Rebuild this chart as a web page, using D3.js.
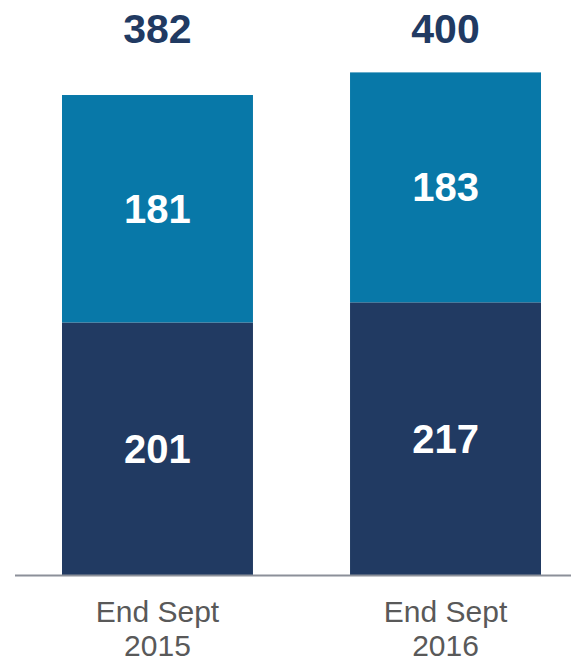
<!DOCTYPE html>
<html>
<head>
<meta charset="utf-8">
<script src="https://cdn.jsdelivr.net/npm/d3@7"></script>
<style>
  body { margin: 0; background: #fff; }
  text { font-family: "Liberation Sans", Arial, sans-serif; }
</style>
</head>
<body>
<div id="chart"></div>
<script>
// data
const categories = ["End Sept 2015", "End Sept 2016"];
const lowerValues = [201, 217];
const upperValues = [181, 183];
const totals = [382, 400];

const width = 571, height = 663;
const baseline = 575;

const svg = d3.select("#chart").append("svg")
  .attr("width", width)
  .attr("height", height);

const x = d3.scaleBand()
  .domain(categories)
  .range([62, 541])
  .paddingInner(0.337)
  .paddingOuter(0);

const y = d3.scaleLinear()
  .domain([0, 400])
  .range([baseline, 72.4]);

const rows = categories.map((c, i) => ({
  cat: c, lower: lowerValues[i], upper: upperValues[i], total: totals[i]
}));

// lower segment
svg.selectAll(".lower")
  .data(rows)
  .join("rect")
    .attr("class", "lower")
    .attr("x", d => x(d.cat))
    .attr("width", x.bandwidth())
    .attr("y", d => y(d.lower))
    .attr("height", d => baseline - y(d.lower))
    .attr("fill", "#213a62");

// upper segment
svg.selectAll(".upper")
  .data(rows)
  .join("rect")
    .attr("class", "upper")
    .attr("x", d => x(d.cat))
    .attr("width", x.bandwidth())
    .attr("y", d => y(d.lower + d.upper))
    .attr("height", d => y(d.lower) - y(d.lower + d.upper))
    .attr("fill", "#0878a8");

// axis line
svg.append("line")
  .attr("x1", 15).attr("x2", width)
  .attr("y1", baseline + 0.5).attr("y2", baseline + 0.5)
  .attr("stroke", "#8c9099")
  .attr("stroke-width", 2);

const cx = d => x(d.cat) + x.bandwidth() / 2;

// segment labels
svg.selectAll(".lowerLabel")
  .data(rows)
  .join("text")
    .attr("x", cx)
    .attr("y", d => (baseline + y(d.lower)) / 2)
    .attr("dy", "0.35em")
    .attr("text-anchor", "middle")
    .attr("fill", "#fff")
    .style("font-size", "40px")
    .style("font-weight", "bold")
    .text(d => d.lower);

svg.selectAll(".upperLabel")
  .data(rows)
  .join("text")
    .attr("x", cx)
    .attr("y", d => (y(d.lower) + y(d.lower + d.upper)) / 2)
    .attr("dy", "0.35em")
    .attr("text-anchor", "middle")
    .attr("fill", "#fff")
    .style("font-size", "40px")
    .style("font-weight", "bold")
    .text(d => d.upper);

// totals
svg.selectAll(".totalLabel")
  .data(rows)
  .join("text")
    .attr("x", cx)
    .attr("y", 43)
    .attr("text-anchor", "middle")
    .attr("fill", "#213a62")
    .style("font-size", "41px")
    .style("font-weight", "bold")
    .text(d => d.total);

// category labels
const catLabels = svg.selectAll(".catLabel")
  .data(rows)
  .join("text")
    .attr("x", cx)
    .attr("y", 622)
    .attr("text-anchor", "middle")
    .attr("fill", "#595959")
    .style("font-size", "30px");

catLabels.each(function(d) {
  const parts = d.cat.split(" ");
  const t = d3.select(this);
  t.append("tspan").attr("x", cx(d)).text(parts.slice(0, 2).join(" "));
  t.append("tspan").attr("x", cx(d)).attr("dy", 34).text(parts[2]);
});
</script>
</body>
</html>
